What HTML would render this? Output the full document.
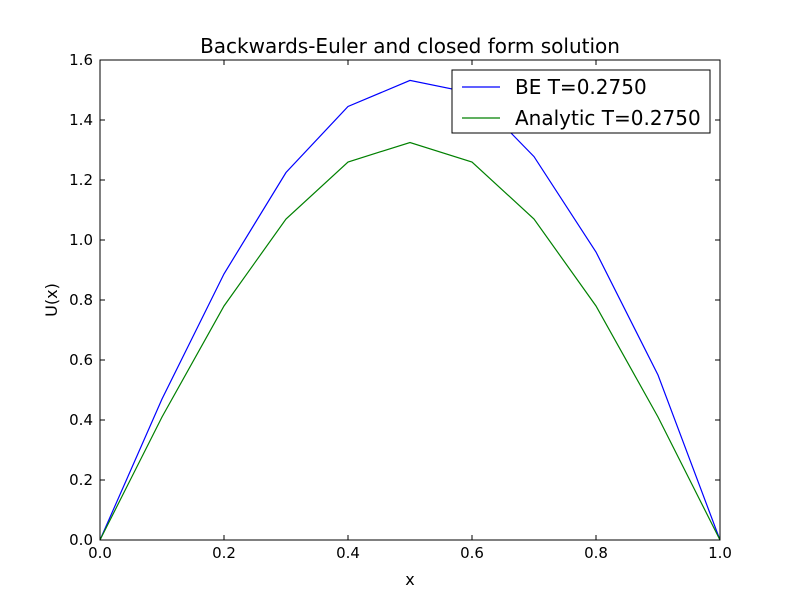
<!DOCTYPE html>
<html><head><meta charset="utf-8">
<style>
body{margin:0;background:#fff;}
svg text{font-family:"DejaVu Sans","Liberation Sans",sans-serif;}
</style></head>
<body>
<svg id="chart" width="800" height="600" xmlns="http://www.w3.org/2000/svg">
<rect width="800" height="600" fill="#fff"/>
<text x="410" y="53" text-anchor="middle" font-size="20">Backwards-Euler and closed form solution</text>
<g id="ticks"></g>
<g id="lines"></g>
<rect x="100" y="60" width="620" height="480" fill="none" stroke="#000" stroke-width="1"/>
<text x="410" y="585" text-anchor="middle" font-size="16">x</text>
<text x="0" y="0" transform="translate(57,300) rotate(-90)" text-anchor="middle" font-size="16">U(x)</text>
<g>
<rect x="452" y="70" width="258" height="63" fill="#fff" stroke="#000" stroke-width="1"/>
<line x1="462" y1="87" x2="500" y2="87" stroke="#0000ff" stroke-width="1.2"/>
<text x="515" y="94" font-size="20">BE T=0.2750</text>
<line x1="462" y1="118" x2="500" y2="118" stroke="#008000" stroke-width="1.2"/>
<text x="515" y="125" font-size="20">Analytic T=0.2750</text>
</g>
</svg>
<script>
const xs = [0,0.1,0.2,0.3,0.4,0.5,0.6,0.7,0.8,0.9,1.0];
const beValues = [0,0.47,0.887,1.225,1.445,1.532,1.49,1.278,0.96,0.55,0];
const analyticValues = [0,0.41,0.78,1.07,1.26,1.325,1.26,1.07,0.78,0.41,0];
const xTicks = [0,0.2,0.4,0.6,0.8,1.0];
const yTicks = [0,0.2,0.4,0.6,0.8,1.0,1.2,1.4,1.6];
const NS="http://www.w3.org/2000/svg";
function sx(v){return 100+v*620;}
function sy(v){return 540-v/1.6*480;}
const tg=document.getElementById('ticks');
function mk(tag,attrs,parent){const e=document.createElementNS(NS,tag);for(const k in attrs)e.setAttribute(k,attrs[k]);parent.appendChild(e);return e;}
xTicks.forEach(t=>{
  const x=sx(t);
  mk('line',{x1:x,y1:540,x2:x,y2:535,stroke:'#000'},tg);
  mk('line',{x1:x,y1:60,x2:x,y2:65,stroke:'#000'},tg);
  const tx=mk('text',{x:x,y:558,'text-anchor':'middle','font-size':15},tg);
  tx.textContent=t.toFixed(1);
  
  
});
yTicks.forEach(t=>{
  const y=sy(t);
  mk('line',{x1:100,y1:y,x2:105,y2:y,stroke:'#000'},tg);
  mk('line',{x1:720,y1:y,x2:715,y2:y,stroke:'#000'},tg);
  const tx=mk('text',{x:93,y:y+5,'text-anchor':'end','font-size':15},tg);
  tx.textContent=t.toFixed(1);
  
  
});
const lg=document.getElementById('lines');
function series(vals,color,name){
  const pts=xs.map((x,i)=>sx(x)+','+sy(vals[i])).join(' ');
  const p=mk('polyline',{points:pts,fill:'none',stroke:color,'stroke-width':1.2},lg);
  
  
}
series(beValues,'#0000ff','be-line');
series(analyticValues,'#008000','analytic-line');
</script>
</body></html>
